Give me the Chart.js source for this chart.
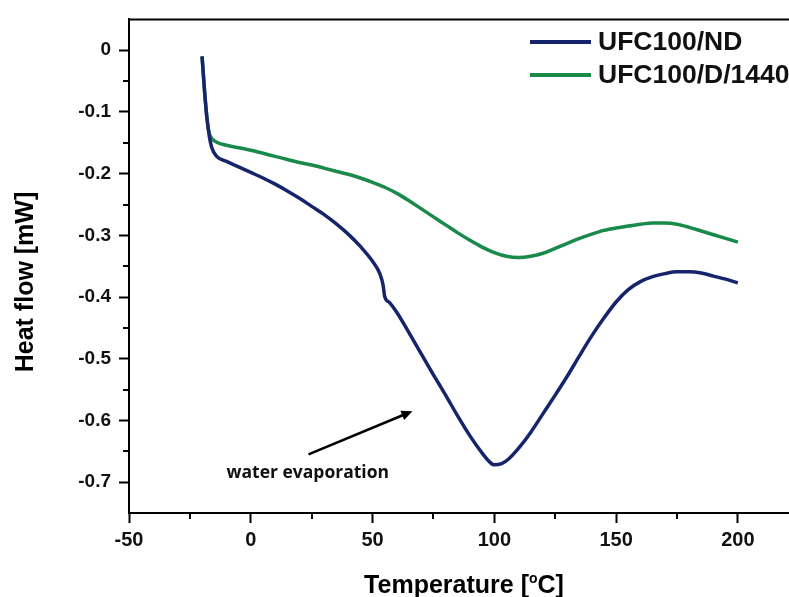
<!DOCTYPE html>
<html>
<head>
<meta charset="utf-8">
<script src="https://cdn.jsdelivr.net/npm/chart.js@4.4.0/dist/chart.umd.min.js"></script>
<style>
  html, body { margin: 0; padding: 0; background: #fff; }
  #wrap { width: 789px; height: 597px; }
</style>
</head>
<body>
<div id="wrap"><canvas id="dscChart" width="789" height="597"></canvas></div>
<script>
// DSC curves
const ndTemp = [-20, -19, -18, -17, -16, -14, -10, -5, 0, 5, 10, 15, 20, 25, 30, 35, 40, 45, 50, 53, 54.3, 55, 57, 60, 65, 70, 75, 80, 85, 90, 95, 98, 100, 103, 106, 110, 115, 120, 125, 130, 135, 140, 145, 150, 155, 160, 165, 170, 175, 180, 185, 190, 195, 200];
const ndFlow = [-0.01, -0.065, -0.11, -0.14, -0.158, -0.172, -0.18, -0.189, -0.198, -0.207, -0.217, -0.228, -0.24, -0.253, -0.266, -0.281, -0.298, -0.318, -0.342, -0.362, -0.38, -0.399, -0.409, -0.425, -0.458, -0.492, -0.526, -0.559, -0.593, -0.625, -0.653, -0.667, -0.672, -0.67, -0.662, -0.645, -0.619, -0.589, -0.559, -0.528, -0.495, -0.463, -0.434, -0.408, -0.388, -0.375, -0.367, -0.362, -0.359, -0.359, -0.361, -0.366, -0.371, -0.377];

const dTemp = [-20, -19, -18, -17, -16, -14, -10, -5, 0, 5, 10, 15, 20, 25, 30, 35, 40, 45, 50, 55, 60, 65, 70, 75, 80, 85, 90, 95, 100, 105, 110, 115, 120, 125, 130, 135, 140, 145, 150, 155, 160, 165, 170, 175, 180, 185, 190, 195, 200];
const dFlow = [-0.01, -0.065, -0.11, -0.135, -0.143, -0.149, -0.154, -0.158, -0.162, -0.167, -0.172, -0.177, -0.182, -0.186, -0.191, -0.196, -0.201, -0.207, -0.214, -0.222, -0.232, -0.244, -0.257, -0.27, -0.283, -0.296, -0.308, -0.319, -0.328, -0.334, -0.336, -0.334, -0.329, -0.321, -0.313, -0.305, -0.298, -0.292, -0.288, -0.285, -0.282, -0.28, -0.28, -0.282, -0.287, -0.293, -0.299, -0.305, -0.311];

const seriesNames = ['UFC100/ND', 'UFC100/D/1440'];
const seriesColors = ['#16256b', '#1a8a4b'];

const xTicks = [-50, 0, 50, 100, 150, 200];
const xMinorTicks = [-25, 25, 75, 125, 175];
const yTicks = [0, -0.1, -0.2, -0.3, -0.4, -0.5, -0.6, -0.7];
const yMinorTicks = [-0.05, -0.15, -0.25, -0.35, -0.45, -0.55, -0.65];

// arrow tail, arrow tip, label position (data coords)
const noteText = 'water evaporation';
const noteArrow = [[23.7, -0.655], [66.4, -0.585]];
const noteLabel = [23.4, -0.686];

const FONT = "'Liberation Sans', Arial, sans-serif";

function toPoints(xs, ys) {
  return xs.map((x, i) => ({ x: x, y: ys[i] }));
}

const extras = {
  id: 'extras',
  afterDraw(chart) {
    const ctx = chart.ctx;
    const area = chart.chartArea;
    const xs = chart.scales.x;
    const ys = chart.scales.y;
    ctx.save();
    ctx.strokeStyle = '#000';
    ctx.fillStyle = '#000';

    // top frame line
    ctx.lineWidth = 2;
    ctx.beginPath();
    ctx.moveTo(area.left, area.top);
    ctx.lineTo(area.right, area.top);
    ctx.stroke();

    // minor ticks
    xMinorTicks.forEach(v => {
      const px = Math.round(xs.getPixelForValue(v));
      ctx.beginPath();
      ctx.moveTo(px, area.bottom);
      ctx.lineTo(px, area.bottom + 6);
      ctx.stroke();
    });
    yMinorTicks.forEach(v => {
      const py = Math.round(ys.getPixelForValue(v));
      ctx.beginPath();
      ctx.moveTo(area.left - 6, py);
      ctx.lineTo(area.left, py);
      ctx.stroke();
    });

    // axis titles
    ctx.font = 'bold 25px ' + FONT;
    ctx.textBaseline = 'alphabetic';
    const t1 = 'Temperature [', t2 = 'o', t3 = 'C]';
    const w1 = ctx.measureText(t1).width;
    const w3 = ctx.measureText(t3).width;
    ctx.font = 'bold 14px ' + FONT;
    const w2 = ctx.measureText(t2).width;
    const tx = 464 - (w1 + w2 + w3) / 2;
    const ty = 593;
    ctx.font = 'bold 25px ' + FONT;
    ctx.textAlign = 'left';
    ctx.fillText(t1, tx, ty);
    ctx.font = 'bold 14px ' + FONT;
    ctx.fillText(t2, tx + w1, ty - 10);
    ctx.font = 'bold 25px ' + FONT;
    ctx.fillText(t3, tx + w1 + w2, ty);

    ctx.save();
    ctx.translate(33, 282);
    ctx.rotate(-Math.PI / 2);
    ctx.textAlign = 'center';
    ctx.fillText('Heat flow [mW]', 0, 0);
    ctx.restore();

    // legend
    ctx.textAlign = 'left';
    ctx.font = 'bold 26.5px ' + FONT;
    const legendY = [42, 75];
    seriesNames.forEach((name, i) => {
      ctx.strokeStyle = seriesColors[i];
      ctx.lineWidth = 4;
      ctx.beginPath();
      ctx.moveTo(530, legendY[i]);
      ctx.lineTo(591, legendY[i]);
      ctx.stroke();
      ctx.fillStyle = '#111';
      ctx.textBaseline = 'middle';
      ctx.fillText(name, 598, legendY[i] + 1);
    });

    // annotation
    const ax0 = xs.getPixelForValue(noteArrow[0][0]);
    const ay0 = ys.getPixelForValue(noteArrow[0][1]);
    const ax1 = xs.getPixelForValue(noteArrow[1][0]);
    const ay1 = ys.getPixelForValue(noteArrow[1][1]);
    const ang = Math.atan2(ay1 - ay0, ax1 - ax0);
    ctx.strokeStyle = '#000';
    ctx.fillStyle = '#000';
    ctx.lineWidth = 2.5;
    ctx.beginPath();
    ctx.moveTo(ax0, ay0);
    ctx.lineTo(ax1 - 8 * Math.cos(ang), ay1 - 8 * Math.sin(ang));
    ctx.stroke();
    ctx.beginPath();
    ctx.moveTo(ax1, ay1);
    ctx.lineTo(ax1 - 11 * Math.cos(ang) + 5 * Math.sin(ang), ay1 - 11 * Math.sin(ang) - 5 * Math.cos(ang));
    ctx.lineTo(ax1 - 11 * Math.cos(ang) - 5 * Math.sin(ang), ay1 - 11 * Math.sin(ang) + 5 * Math.cos(ang));
    ctx.closePath();
    ctx.fill();

    ctx.font = "bold 17.5px 'Open Sans', sans-serif";
    ctx.textAlign = 'center';
    ctx.textBaseline = 'middle';
    ctx.fillStyle = '#111';
    ctx.fillText(noteText, xs.getPixelForValue(noteLabel[0]), ys.getPixelForValue(noteLabel[1]));

    ctx.restore();
  }
};

const ctx = document.getElementById('dscChart').getContext('2d');
const dscChart = new Chart(ctx, {
  type: 'line',
  data: {
    datasets: [
      {
        label: seriesNames[0],
        data: toPoints(ndTemp, ndFlow),
        borderColor: seriesColors[0],
        borderWidth: 3.5,
        pointRadius: 0,
        cubicInterpolationMode: 'monotone'
      },
      {
        label: seriesNames[1],
        data: toPoints(dTemp, dFlow),
        borderColor: seriesColors[1],
        borderWidth: 3.5,
        pointRadius: 0,
        cubicInterpolationMode: 'monotone'
      }
    ]
  },
  options: {
    responsive: false,
    devicePixelRatio: 1,
    animation: false,
    layout: { padding: { top: 17, right: 0, bottom: 0, left: 0 } },
    plugins: {
      legend: { display: false },
      tooltip: { enabled: false }
    },
    scales: {
      x: {
        type: 'linear',
        min: -50,
        max: 221,
        afterBuildTicks: s => { s.ticks = xTicks.map(v => ({ value: v })); },
        afterFit: s => { s.height = 84; },
        grid: { drawOnChartArea: false, tickLength: 10, tickWidth: 2, tickColor: '#000' },
        border: { color: '#000', width: 2 },
        ticks: {
          color: '#111',
          padding: 5,
          maxRotation: 0,
          autoSkip: false,
          font: { family: FONT, size: 20, weight: 'bold' }
        }
      },
      y: {
        type: 'linear',
        min: -0.75,
        max: 0.05,
        afterBuildTicks: s => { s.ticks = yTicks.map(v => ({ value: v })); },
        afterFit: s => { s.width = 129; },
        grid: { drawOnChartArea: false, tickLength: 10, tickWidth: 2, tickColor: '#000' },
        border: { color: '#000', width: 2 },
        ticks: {
          color: '#111',
          padding: 8,
          autoSkip: false,
          font: { family: FONT, size: 19, weight: 'bold' },
          callback: v => (v === 0 ? '0' : v.toFixed(1))
        }
      }
    }
  },
  plugins: [extras]
});
</script>
</body>
</html>
